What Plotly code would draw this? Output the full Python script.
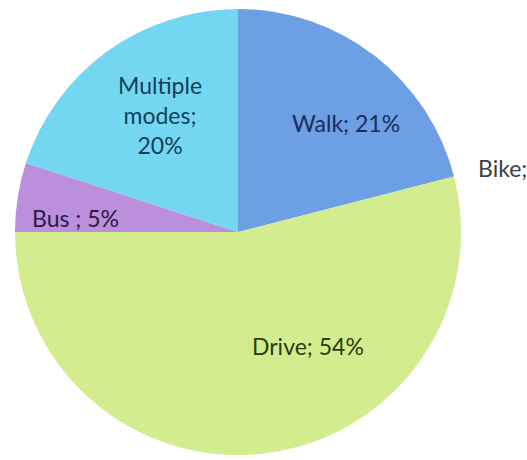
import plotly.graph_objects as go

# Data
labels = ["Walk", "Bike", "Drive", "Bus ", "Multiple modes"]
values = [21, 0, 54, 5, 20]

# Styling
slice_colors = ["#6c9fe3", "#9ecf5a", "#d3ec8e", "#bb8fdb", "#74d7f2"]
text_colors = ["#1c2d5a", "#404040", "#2c3d0d", "#2a1a45", "#123f55"]
# label centres in pixels (x, y from top)
label_pos = [(346, 123), (476, 168), (308, 346), (75, 218), (160, 115)]
label_anchor = ["center", "left", "center", "center", "center"]

W, H = 527, 460

fig = go.Figure(go.Pie(
    labels=labels,
    values=values,
    sort=False,
    direction="clockwise",
    rotation=0,
    marker=dict(colors=slice_colors, line=dict(width=0)),
    textinfo="none",
    hoverinfo="label+percent",
    showlegend=False,
    domain=dict(x=[15 / W, 461 / W], y=[1 - 455 / H, 1 - 9 / H]),
))

for lab, val, col, (px, py), anc in zip(labels, values, text_colors, label_pos, label_anchor):
    if lab == "Multiple modes":
        txt = "Multiple<br>modes;<br>%d%%" % val
    else:
        txt = "%s; %d%%" % (lab, val)
    fig.add_annotation(
        x=px / W, y=1 - py / H, xref="paper", yref="paper",
        text=txt, showarrow=False, xanchor=anc, yanchor="middle",
        font=dict(family="Lato", size=23, color=col),
        align="center",
    )

fig.update_layout(
    width=W, height=H,
    margin=dict(l=0, r=0, t=0, b=0),
    paper_bgcolor="white",
    plot_bgcolor="white",
)

fig.write_html("out.html", config={"displayModeBar": False},
               post_script="document.body.style.margin='0';")
